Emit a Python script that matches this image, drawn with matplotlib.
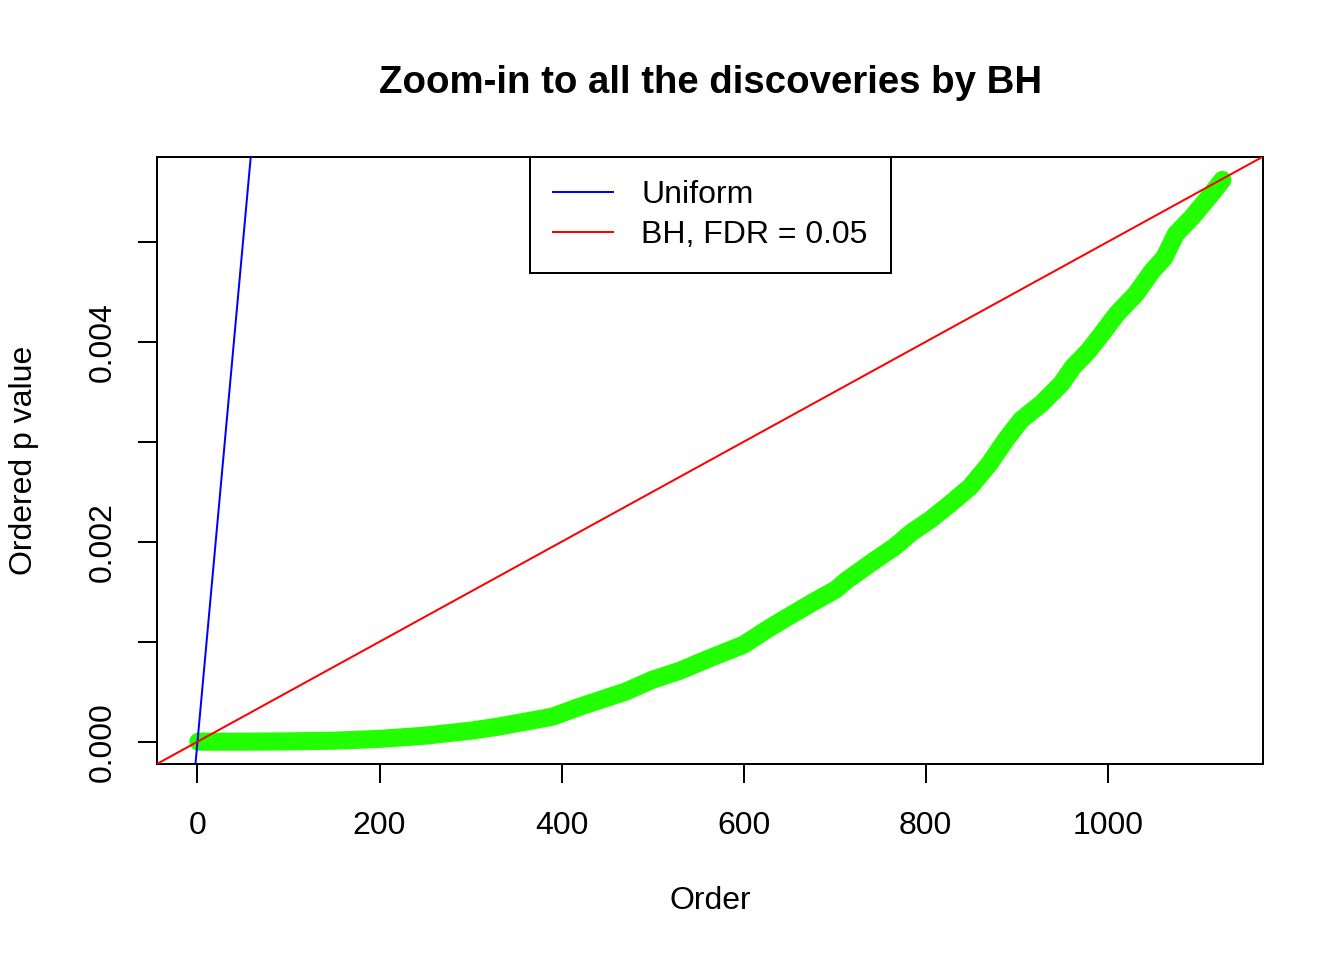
import numpy as np
import matplotlib.pyplot as plt

plt.rcParams['font.family'] = ['Liberation Sans', 'DejaVu Sans']

# number of tests and target FDR
m_tests = 10000
fdr = 0.05

# ordered p values of the BH discoveries
order = [1, 50, 100, 150, 200, 250, 300, 330, 360, 390, 420, 440, 470, 500,
         530, 564, 600, 627, 649, 679, 701, 714, 745, 766, 784, 805, 827, 849,
         870, 888, 905, 927, 949, 962, 979, 996, 1010, 1031, 1049, 1062, 1075,
         1092, 1114, 1126]
pvals = [0.0, 0.0, 0.000003, 0.00001, 0.000028, 0.00006, 0.00011, 0.00015,
         0.0002, 0.00025, 0.00035, 0.00041, 0.0005, 0.00062, 0.00071, 0.00084,
         0.00097, 0.00113, 0.00125, 0.00141, 0.00152, 0.00162, 0.00182,
         0.00195, 0.00209, 0.00222, 0.00238, 0.00255, 0.00278, 0.00302,
         0.00322, 0.00338, 0.00358, 0.00375, 0.00391, 0.00411, 0.00428,
         0.00448, 0.00471, 0.00484, 0.00508, 0.00524, 0.00548, 0.00562]

xticks = [0, 200, 400, 600, 800, 1000]
yticks = [0.0, 0.001, 0.002, 0.003, 0.004, 0.005]
ytick_labels = ['0.000', '', '0.002', '', '0.004', '']

fig = plt.figure(figsize=(7, 5), dpi=192)
ax = fig.add_axes([0.82 / 7, 1.02 / 5, (7 - 1.24) / 7, (5 - 1.84) / 5])

ax.plot(order, pvals, color='#22ff00', linewidth=6.8,
        solid_capstyle='round', solid_joinstyle='round', zorder=2)
ax.axline((0, 0), slope=1 / m_tests, color='#0000ff', linewidth=0.75,
          label='Uniform', zorder=3)
ax.axline((0, 0), slope=fdr / m_tests, color='#ff0000', linewidth=0.75,
          label='BH, FDR = 0.05', zorder=3)

# R style 4% padding
xr = max(order) - min(order)
yr = max(pvals) - min(pvals)
ax.set_xlim(min(order) - 0.04 * xr, max(order) + 0.04 * xr)
ax.set_ylim(min(pvals) - 0.04 * yr, max(pvals) + 0.04 * yr)

ax.set_xticks(xticks)
ax.set_xticklabels([str(t) for t in xticks])
ax.set_yticks(yticks)
ax.set_yticklabels(ytick_labels, rotation=90, va='center')
ax.tick_params(axis='both', length=7.2, width=0.75, labelsize=12,
               direction='out', color='black')
ax.tick_params(axis='x', pad=10.5)
ax.tick_params(axis='y', pad=7.5)
for sp in ax.spines.values():
    sp.set_linewidth(0.75)

ax.set_xlabel('Order', fontsize=12, va='center')
ax.xaxis.set_label_coords(0.5, -(900 - 763) / 606)
ax.set_ylabel('Ordered p value', fontsize=12, va='center')
ax.yaxis.set_label_coords(-(157 - 24) / 1106, 0.5)

ax.set_title('Zoom-in to all the discoveries by BH', fontsize=14.4,
             fontweight='bold', pad=24)

leg = ax.legend(loc='upper center', borderaxespad=0, fontsize=12,
                handlelength=1.875, handletextpad=0.875, borderpad=0.72,
                labelspacing=0.3, fancybox=False, framealpha=1,
                edgecolor='black')
leg.get_frame().set_linewidth(0.75)

plt.savefig('out.png', dpi=192)
